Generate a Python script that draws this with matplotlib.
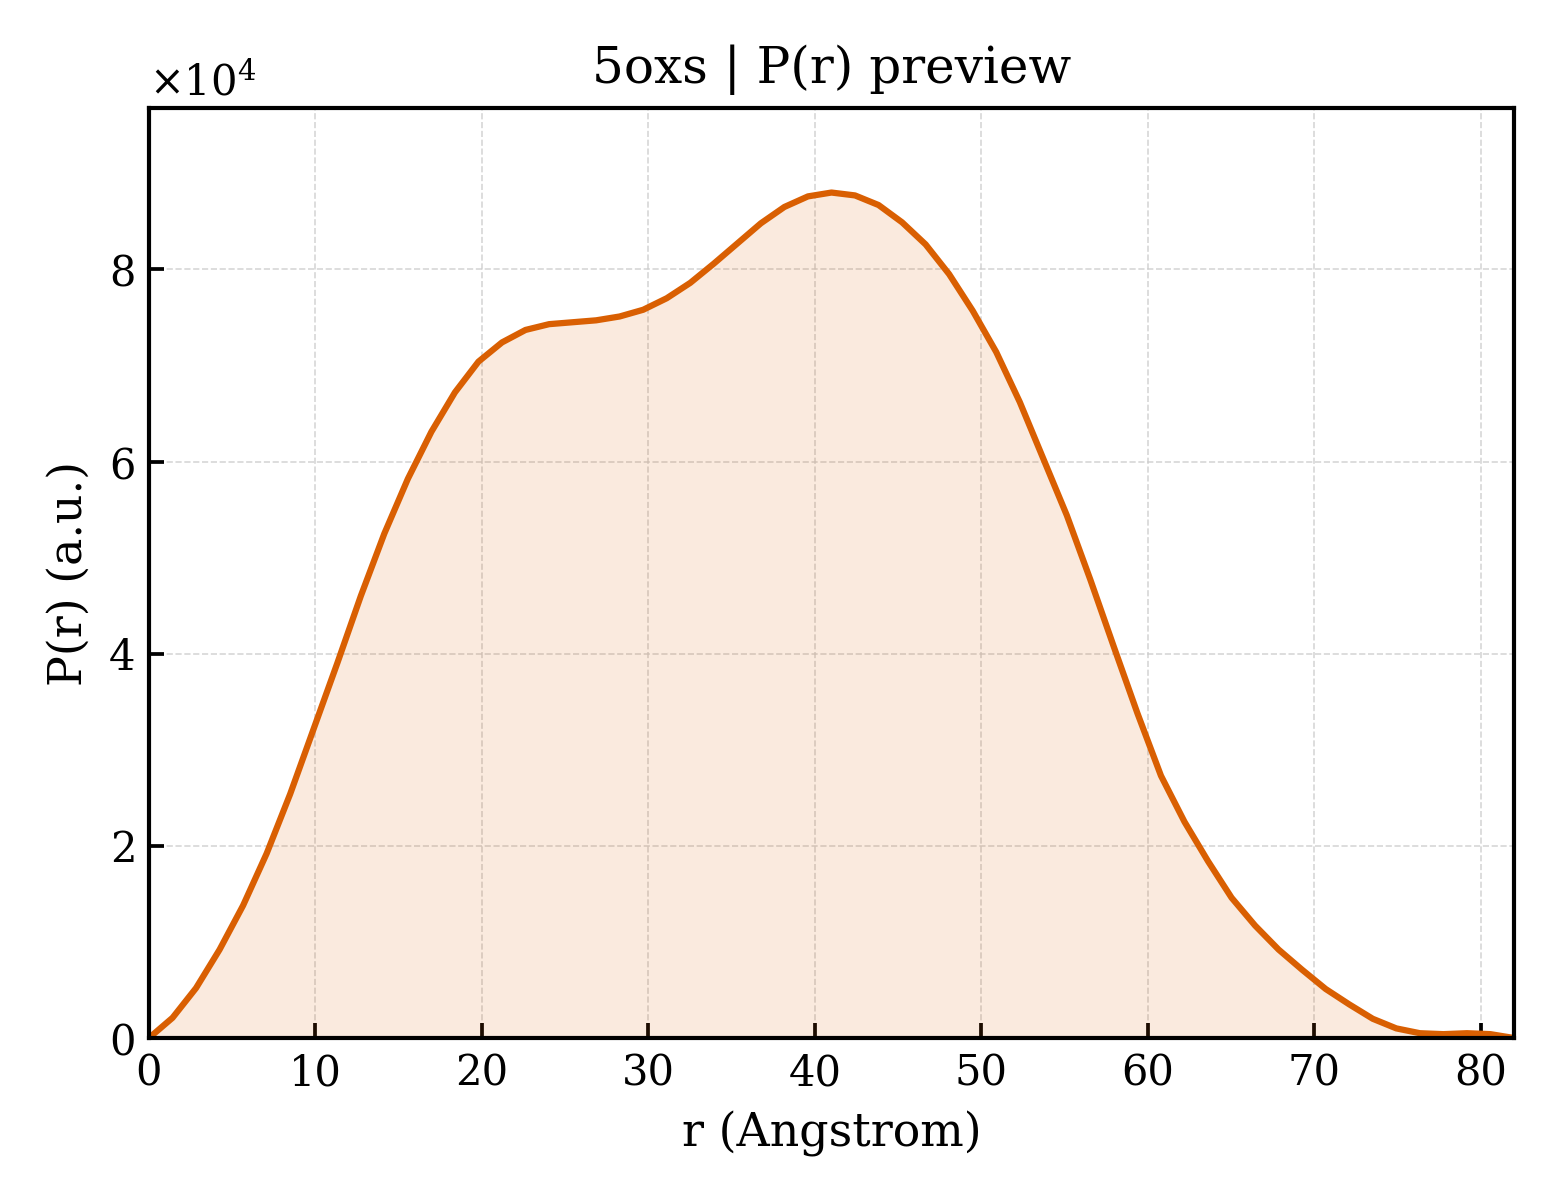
# P(r) preview for 5oxs
import numpy as np
import matplotlib
matplotlib.use("Agg")
import matplotlib.pyplot as plt

D_MAX = 82.0
N_POINTS = 59

# P(r) values, in units of 1e4
p_r_e4 = [
    0.00, 0.21, 0.52, 0.92, 1.38, 1.92, 2.54, 3.22, 3.90, 4.60,
    5.25, 5.82, 6.31, 6.72, 7.04, 7.24, 7.37, 7.43, 7.45, 7.47,
    7.51, 7.58, 7.70, 7.86, 8.06, 8.27, 8.48, 8.65, 8.76, 8.80,
    8.77, 8.67, 8.49, 8.26, 7.95, 7.57, 7.14, 6.62, 6.03, 5.44,
    4.77, 4.07, 3.38, 2.73, 2.25, 1.84, 1.46, 1.17, 0.92, 0.71,
    0.51, 0.35, 0.20, 0.10, 0.05, 0.04, 0.05, 0.04, 0.00,
]

r = np.linspace(0, D_MAX, N_POINTS)
p_r = np.array(p_r_e4) * 1e4

plt.rcParams['font.family'] = ['DejaVu Serif']
plt.rcParams['mathtext.fontset'] = 'dejavuserif'

fig, ax = plt.subplots(figsize=(5.2, 4.0), dpi=300)
fig.subplots_adjust(left=0.0955, right=0.9705, bottom=0.135, top=0.91)

color = '#D95F02'
ax.fill_between(r, 0, p_r, color=color, alpha=0.13, linewidth=0)
ax.plot(r, p_r, color=color, lw=1.5)

ax.set_xlim(0, D_MAX)
ax.set_ylim(0, p_r.max() * 1.1)

ax.ticklabel_format(axis='y', style='sci', scilimits=(0, 0), useMathText=True)
ax.tick_params(direction='in', labelsize=10, length=3.5, width=0.9)
for sp in ax.spines.values():
    sp.set_linewidth(1.0)

ax.grid(True, ls='--', lw=0.4, color='#cccccc', alpha=0.8)
ax.set_axisbelow(True)

ax.set_xlabel("r (Angstrom)", fontsize=11)
ax.set_ylabel("P(r) (a.u.)", fontsize=11)
ax.set_title("5oxs | P(r) preview", fontsize=12)
ax.yaxis.get_offset_text().set_fontsize(10)

fig.savefig("out.png", dpi=300)
